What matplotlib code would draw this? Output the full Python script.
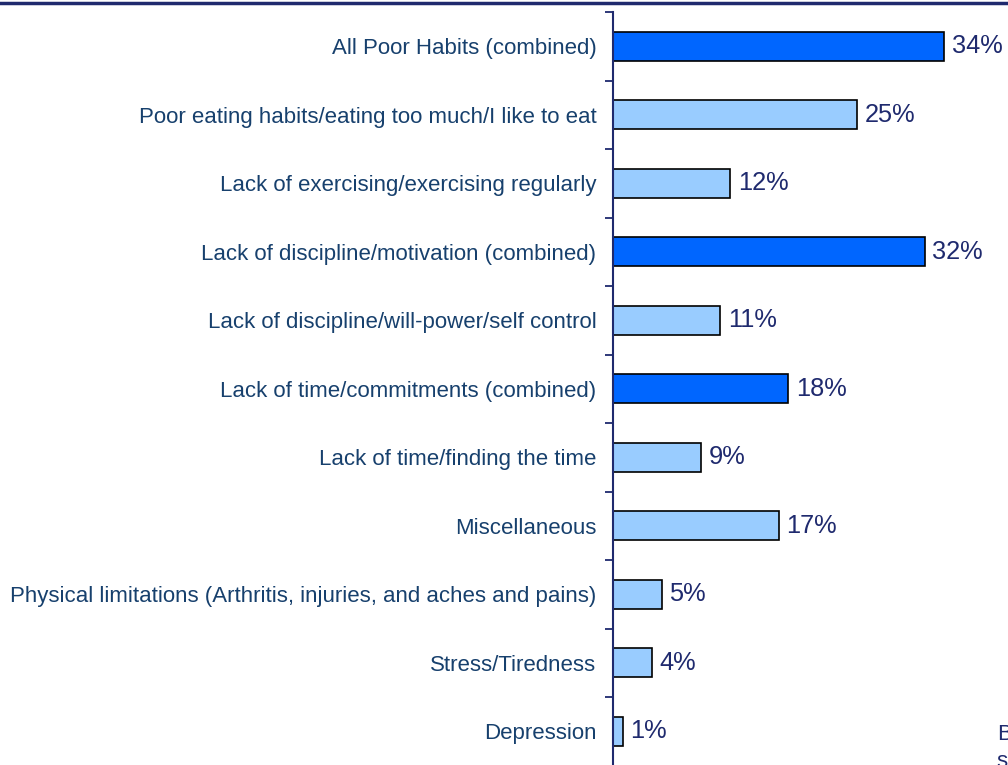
import matplotlib

matplotlib.use("Agg")
import matplotlib.pyplot as plt
from matplotlib.lines import Line2D

categories = [
    "All Poor Habits (combined)",
    "Poor eating habits/eating too much/I like to eat",
    "Lack of exercising/exercising regularly",
    "Lack of discipline/motivation (combined)",
    "Lack of discipline/will-power/self control",
    "Lack of time/commitments (combined)",
    "Lack of time/finding the time",
    "Miscellaneous",
    "Physical limitations (Arthritis, injuries, and aches and pains)",
    "Stress/Tiredness",
    "Depression",
]
values = [34, 25, 12, 32, 11, 18, 9, 17, 5, 4, 1]
combined = [True, False, False, True, False, True, False, False, False, False, False]

DARK = "#0066FF"
LIGHT = "#99CCFF"
NAVY = "#1F2A6E"
LABEL = "#17406D"

W, H = 1008, 765
fig = plt.figure(figsize=(W / 100, H / 100), dpi=100)

# axes placed in pixel terms: spine at x=613, slots of 68.5 px starting y=12
x0, x1 = 613, 1008
top, slot = 12, 68.5
bottom = top + slot * len(categories)
ax = fig.add_axes([x0 / W, 1 - bottom / H, (x1 - x0) / W, (bottom - top) / H])

n = len(categories)
ypos = list(range(n))
colors = [DARK if c else LIGHT for c in combined]
ax.barh(ypos, values, height=0.42, color=colors, edgecolor="black", linewidth=1.2)

ax.set_ylim(n - 0.5, -0.5)
ax.set_xlim(0, (x1 - x0) / 9.74)

for y, v in zip(ypos, values):
    ax.text(v + 0.8, y, f"{v}%", va="center", ha="left", fontsize=18.3,
            family="Liberation Sans", color=NAVY)

for s in ["top", "right", "bottom"]:
    ax.spines[s].set_visible(False)
ax.spines["left"].set_color(NAVY)
ax.spines["left"].set_linewidth(1.5)
ax.set_xticks([])
ax.set_yticks([i - 0.5 for i in range(n + 1)])
ax.set_yticklabels([])
ax.set_yticks(ypos, minor=True)
ax.set_yticklabels(categories, minor=True)
ax.tick_params(axis="y", which="major", direction="out", length=6, width=1.3, color=NAVY)
ax.tick_params(axis="y", which="minor", length=0, pad=12, labelsize=16,
               labelcolor=LABEL)
for t in ax.get_yticklabels(minor=True):
    t.set_family("Liberation Sans")

# header rule across the top of the slide
fig.add_artist(Line2D([0, 1], [1 - 2.5 / H, 1 - 2.5 / H], color=NAVY, lw=2.5))

# cut-off side note at the right edge
fig.text(997 / W, 1 - 734 / H, "Base:", fontsize=16, family="Liberation Sans",
         color=NAVY, va="center", ha="left")
fig.text(997 / W, 1 - 762 / H, "survey respondents", fontsize=16,
         family="Liberation Sans", color=NAVY, va="center", ha="left")

fig.savefig("out.png", dpi=100)
